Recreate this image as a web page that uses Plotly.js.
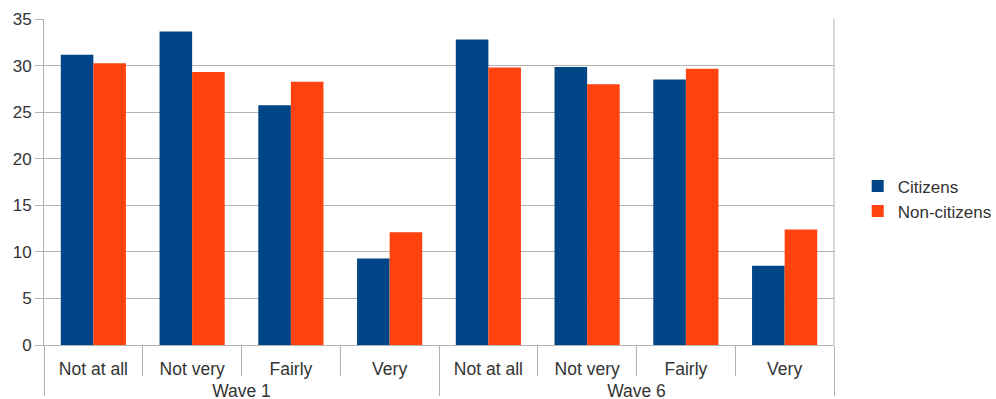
<!DOCTYPE html>
<html>
<head>
<meta charset="utf-8">
<script src="https://cdn.plot.ly/plotly-3.0.1.min.js"></script>
<style>html,body{margin:0;padding:0;background:#fff;}#chart{width:996px;height:399px;}</style>
</head>
<body>
<div id="chart"></div>
<script>
const waves = ["Wave 1","Wave 1","Wave 1","Wave 1","Wave 6","Wave 6","Wave 6","Wave 6"];
const levels = ["Not at all","Not very","Fairly","Very","Not at all","Not very","Fairly","Very"];
const citizens = [31.15, 33.65, 25.75, 9.3, 32.8, 29.85, 28.5, 8.5];
const nonCitizens = [30.25, 29.3, 28.25, 12.1, 29.8, 28.0, 29.65, 12.4];
const yTicks = [0,5,10,15,20,25,30,35];

// category slots along the axis (one per wave/level pair)
const slots = levels.map((_, i) => i);
const groupNames = [...new Set(waves)];
const groupCenters = groupNames.map(g => {
  const idx = slots.filter(i => waves[i] === g);
  return idx.reduce((a, b) => a + b, 0) / idx.length;
});
const groupSize = slots.length / groupNames.length;

const font = {family: "Liberation Sans, Arial, sans-serif", size: 17, color: "#333333"};
const xfont = {family: "Liberation Sans, Arial, sans-serif", size: 17.5, color: "#333333"};
const grey = "#b3b3b3";
const xr = [-0.5, slots.length - 0.5];

const traces = [
  {type: "bar", name: "Citizens", x: slots, y: citizens, marker: {color: "#004586"}},
  {type: "bar", name: "Non-citizens", x: slots, y: nonCitizens, marker: {color: "#ff420e"}},
  // carrier for the wave-level axis (draws nothing)
  {type: "scatter", mode: "none", x: groupCenters, y: groupCenters.map(() => null), xaxis: "x2", yaxis: "y", showlegend: false, hoverinfo: "skip"}
];
const layout = {
  width: 996, height: 399,
  margin: {l: 44, r: 162, t: 19, b: 54, pad: 0, autoexpand: false},
  paper_bgcolor: "#ffffff", plot_bgcolor: "#ffffff",
  font: font,
  barmode: "group", bargap: 0.34, bargroupgap: 0,
  showlegend: true,
  legend: {x: 1.030, y: 0.448, xanchor: "left", yanchor: "middle", font: font, tracegroupgap: 0, itemwidth: 30},
  xaxis: {
    type: "linear", range: xr, fixedrange: true,
    tickmode: "array", tickvals: slots, ticktext: levels,
    ticks: "", ticklabelstandoff: 8,
    minor: {tickmode: "linear", tick0: 0.5, dtick: 1, ticks: "outside", ticklen: 30, tickcolor: grey, showgrid: false},
    showline: true, linecolor: grey, linewidth: 1,
    tickfont: xfont, showgrid: false, zeroline: false
  },
  xaxis2: {
    type: "linear", range: xr, overlaying: "x", anchor: "y", side: "bottom",
    tickmode: "array", tickvals: groupCenters, ticktext: groupNames,
    ticks: "", ticklabelstandoff: 33,
    minor: {tickmode: "linear", tick0: -0.5, dtick: groupSize, ticks: "outside", ticklen: 50, tickcolor: grey, showgrid: false},
    showline: false, tickfont: xfont, showgrid: false, zeroline: false
  },
  yaxis: {
    range: [0, 35], tickvals: yTicks, ticktext: yTicks.map(String),
    showgrid: true, gridcolor: grey, gridwidth: 1,
    showline: true, linecolor: grey, linewidth: 1,
    ticks: "outside", ticklen: 8, tickcolor: grey,
    tickfont: font, zeroline: false
  },
  shapes: [{type: "line", xref: "paper", yref: "paper", x0: 1, x1: 1, y0: 0, y1: 1, line: {color: grey, width: 1}}]
};
Plotly.newPlot("chart", traces, layout, {displayModeBar: false, staticPlot: true});
</script>
</body>
</html>
